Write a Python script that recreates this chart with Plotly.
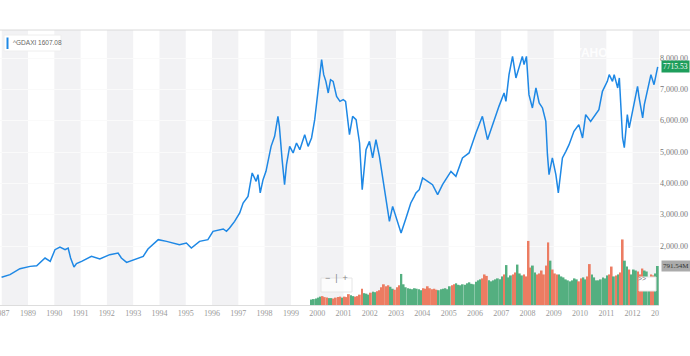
import numpy as np
import pandas as pd
import plotly.graph_objects as go

# ---- price series (^GDAXI close) ----
price_dates = [
    "1987-12-30", "1988-04-25", "1988-09-10", "1989-01-30", "1989-05-01", "1989-08-25", "1989-11-05",
    "1990-01-10", "1990-03-20", "1990-05-30", "1990-07-12", "1990-08-15", "1990-10-01", "1990-11-05",
    "1991-01-15", "1991-06-01", "1991-09-25", "1992-02-10", "1992-06-05", "1992-07-20", "1992-10-01",
    "1993-01-01", "1993-05-20", "1993-07-25", "1993-12-15", "1994-04-10", "1994-07-10", "1994-10-05",
    "1995-01-10", "1995-03-20", "1995-07-12", "1995-11-05", "1996-01-15", "1996-04-15", "1996-06-05",
    "1996-07-20", "1996-09-01", "1996-11-10", "1997-01-20", "1997-03-08", "1997-05-15", "1997-07-12",
    "1997-09-05", "1997-10-01", "1997-11-01", "1997-12-10", "1998-01-20", "1998-04-01", "1998-05-20",
    "1998-07-05", "1998-07-25", "1998-09-01", "1998-10-05",
    "1998-11-01", "1998-12-15", "1999-02-01", "1999-03-20", "1999-05-05", "1999-07-12", "1999-08-28",
    "1999-10-15", "1999-11-28", "2000-01-01", "2000-02-08", "2000-03-03", "2000-04-01", "2000-05-01",
    "2000-06-03", "2000-07-05", "2000-08-10", "2000-09-27", "2000-11-13", "2000-12-28",
    "2001-01-30", "2001-03-25", "2001-05-08", "2001-06-25",
    "2001-08-12", "2001-09-18", "2001-11-10", "2001-12-28", "2002-02-10", "2002-03-28", "2002-05-15",
    "2002-07-22", "2002-10-01", "2002-11-15", "2003-01-01", "2003-03-12", "2003-05-20", "2003-07-25",
    "2003-09-12", "2003-10-05", "2003-11-20", "2004-01-05", "2004-03-15", "2004-05-22", "2004-08-01",
    "2004-10-08", "2005-02-02", "2005-04-12", "2005-07-12", "2005-10-12", "2006-01-15", "2006-04-15",
    "2006-06-25", "2006-09-25", "2006-12-01", "2007-02-10", "2007-03-08", "2007-04-20", "2007-06-08",
    "2007-07-25", "2007-09-05", "2007-10-22", "2007-11-15", "2007-12-18", "2008-01-22", "2008-03-10",
    "2008-04-28", "2008-06-12", "2008-07-28", "2008-09-12", "2008-10-05", "2008-10-27", "2008-12-12",
    "2009-01-30", "2009-03-05", "2009-05-01", "2009-06-18", "2009-08-01", "2009-10-08", "2009-12-15",
    "2010-02-05", "2010-03-20", "2010-05-28", "2010-08-08", "2010-09-20", "2010-11-08", "2011-01-15",
    "2011-02-10", "2011-03-28", "2011-04-20", "2011-06-08", "2011-07-01", "2011-07-25", "2011-08-15",
    "2011-09-08", "2011-10-20", "2011-11-15", "2012-01-01", "2012-03-10", "2012-04-01", "2012-05-20",
    "2012-06-12", "2012-07-25", "2012-09-12", "2012-10-25", "2012-12-15",
]
price_values = [
    1000, 1085, 1277, 1350, 1372, 1617, 1510,
    1883, 1968, 1883, 1936, 1617, 1330, 1436,
    1510, 1670, 1585, 1723, 1777, 1617, 1478,
    1563, 1670, 1904, 2202, 2148, 2095, 2042,
    2095, 1936, 2148, 2202, 2467, 2521, 2543,
    2467, 2574, 2787, 3054, 3373, 3584, 4331,
    4063, 4277, 3693, 4117, 4382, 5180, 5500,
    6138, 5819, 4756, 3958,
    4596, 5180, 4970, 5288, 5075, 5554, 5180,
    5448, 6032, 6777, 7628, 7947, 7469, 7255,
    6884, 7309, 7255, 6777, 6618, 6671,
    6618, 5554, 6138, 6032,
    5288, 3798, 5075, 5340, 4810, 5394, 4861,
    3798, 2787, 3265, 2946, 2416, 2895, 3373,
    3584, 3693, 3798, 4171, 4063, 3958, 3639,
    3958, 4382, 4223, 4810, 4970, 5608, 6138,
    5394, 6032, 6457, 6885, 6618, 7469, 8053,
    7363, 7682, 8053, 7788, 8053, 6830, 6406,
    7044, 6565, 6406, 5978, 4915, 4277, 4810,
    4277, 3693, 4810, 5021, 5235, 5659, 5873,
    5448, 6192, 5978, 6192, 6352, 6936, 7255,
    7469, 7255, 7469, 7044, 7363, 6297, 5448,
    5140, 6192, 5767, 6297, 7096, 6724, 6086,
    6511, 6936, 7469, 7149, 7715.53,
]

# ---- monthly volume (millions), Oct 1999 .. Dec 2012 ----
volume_start = "1999-10-01"
volume_millions = [
    110, 120, 130,
    150, 170, 180, 160, 150, 140, 140, 130, 150, 160, 170, 150,
    170, 160, 220, 200, 180, 170, 180, 210, 330, 240, 230, 210,
    250, 270, 260, 280, 300, 360, 420, 380, 400, 370, 330, 310,
    360, 400, 630, 420, 360, 340, 330, 320, 340, 330, 320, 300,
    340, 330, 380, 340, 320, 330, 310, 300, 320, 330, 340, 320,
    380, 400, 420, 440, 410, 400, 420, 410, 440, 460, 430, 420,
    470, 500, 520, 540, 620, 590, 500, 480, 500, 520, 540, 520,
    580, 620, 810, 560, 600, 620, 660, 820, 640, 600, 620, 580,
    1300, 760, 800, 660, 620, 640, 700, 620, 800, 1270, 900, 720,
    640, 620, 620, 580, 560, 520, 500, 480, 500, 540, 520, 480,
    540, 560, 520, 580, 830, 620, 560, 500, 500, 520, 560, 540,
    600, 620, 780, 580, 600, 620, 660, 1330, 900, 780, 720, 620,
    720, 700, 680, 620, 740, 700, 680, 560, 620, 600, 640, 791.54,
]

year_ticks = list(range(1989, 2014))
first_tick_date = "1987-12-30"
first_tick_label = "1987"
price_ticks = [2000, 3000, 4000, 5000, 6000, 7000, 8000]
legend_text = "^GDAXI 1607.08"
last_price = 7715.53
last_volume = 791.54

# ---- derived ----
pd_dates = pd.to_datetime(price_dates)
vol_dates = pd.date_range(volume_start, periods=len(volume_millions), freq="MS")
t_price = pd_dates.values.astype("datetime64[D]").astype(float)
t_start = vol_dates.values.astype("datetime64[D]").astype(float)
t_end = (vol_dates + pd.offsets.MonthEnd(0)).values.astype("datetime64[D]").astype(float)
p0 = np.interp(t_start, t_price, price_values)
p1 = np.interp(t_end, t_price, price_values)
UP, DOWN = "#54AF80", "#EC7C62"
bar_colors = [UP if b >= a else DOWN for a, b in zip(p0, p1)]
vol_mid = vol_dates + pd.Timedelta(days=15)

fig = go.Figure()

fig.add_trace(go.Bar(
    x=vol_mid, y=volume_millions, yaxis="y2",
    marker=dict(color=bar_colors, line=dict(width=0)),
    width=[26 * 24 * 3600 * 1000] * len(volume_millions),
    showlegend=False, hoverinfo="skip",
))
fig.add_trace(go.Scatter(
    x=pd_dates, y=price_values, mode="lines",
    line=dict(color="#1E88E5", width=1.5),
    showlegend=False, hoverinfo="skip",
))

shapes = []
for y in range(1988, 2013, 2):
    shapes.append(dict(type="rect", xref="x", yref="paper",
                       x0=f"{y}-01-01", x1=f"{y+1}-01-01", y0=0, y1=1,
                       fillcolor="#F2F2F4", line=dict(width=0), layer="below"))

PW, PH, T = 659.0, 275.0, 30.0
def px(xp):
    return xp / PW
def py(yp):
    return 1 - (yp - T) / PH

# top border
shapes.append(dict(type="line", xref="paper", yref="paper", x0=0, x1=1.05, y0=1, y1=1,
                   line=dict(color="#DADADA", width=1), layer="above"))
# clip last x label at plot edge
shapes.append(dict(type="rect", xref="paper", yref="paper", x0=1.001, x1=1.06,
                   y0=py(308), y1=py(325), fillcolor="white", line=dict(width=0), layer="above"))
# legend box
shapes.append(dict(type="rect", xref="paper", yref="paper", x0=px(4), x1=px(61),
                   y0=py(51), y1=py(35), fillcolor="white",
                   line=dict(color="#EEEEEE", width=1), layer="above"))
shapes.append(dict(type="rect", xref="paper", yref="paper", x0=px(6.5), x1=px(8.5),
                   y0=py(49), y1=py(37.5), fillcolor="#1E88E5",
                   line=dict(width=0), layer="above"))
# zoom controls
shapes.append(dict(type="rect", xref="paper", yref="paper", x0=px(321), x1=px(352),
                   y0=py(292), y1=py(278), fillcolor="rgba(255,255,255,0.75)",
                   line=dict(color="#E6E6E6", width=1), layer="above"))
shapes.append(dict(type="rect", xref="paper", yref="paper", x0=px(639), x1=px(656),
                   y0=py(291), y1=py(277), fillcolor="white",
                   line=dict(color="#E6E6E6", width=1), layer="above"))

annotations = [
    dict(xref="paper", yref="paper", x=px(11), y=py(43), xanchor="left", yanchor="middle",
         text=legend_text, showarrow=False, font=dict(size=6.5, color="#666", family="Liberation Sans")),
    dict(xref="paper", yref="y", x=1, y=last_price, xanchor="left", yanchor="middle", xshift=2,
         text=f"{last_price:.2f}", showarrow=False, bgcolor="#1E9E5C", borderpad=1,
         font=dict(size=7.5, color="white", family="Liberation Serif")),
    dict(xref="paper", yref="y2", x=1, y=last_volume, xanchor="left", yanchor="middle", xshift=2,
         text=f"{last_volume:.2f}M", showarrow=False, bgcolor="#ABABAB", borderpad=1,
         font=dict(size=7, color="#333", family="Liberation Serif")),
    dict(xref="paper", yref="paper", x=px(336.5), y=py(285), text="\u2212  |  +", showarrow=False,
         font=dict(size=9, color="#888", family="Liberation Sans")),
    dict(xref="paper", yref="paper", x=px(647.5), y=py(284), text=">>", showarrow=False,
         font=dict(size=7, color="#777", family="Liberation Sans")),
    dict(xref="paper", yref="paper", x=px(623), y=py(44), text="<b>YAHOO!</b>", showarrow=False,
         font=dict(size=12, color="rgba(255,255,255,0.9)", family="Liberation Sans")),
]

fig.update_layout(
    width=690, height=356,
    margin=dict(l=0, r=31, t=30, b=51, autoexpand=False),
    paper_bgcolor="white", plot_bgcolor="white",
    bargap=0.1,
    shapes=shapes, annotations=annotations,
    xaxis=dict(
        type="date", range=["1987-12-08", "2013-01-02"],
        tickvals=[first_tick_date] + [f"{y}-01-01" for y in year_ticks],
        ticktext=[first_tick_label] + [str(y) for y in year_ticks],
        tickfont=dict(size=8, color="#999", family="Liberation Serif"),
        ticklabeloverflow="allow", automargin=False,
        showgrid=False, showline=True, linecolor="#DDDDDD", linewidth=1,
        ticks="", ticklen=0, zeroline=False, fixedrange=True,
    ),
    yaxis=dict(
        side="right", range=[117, 8894], automargin=False,
        tickvals=price_ticks, tickformat=",.2f",
        tickfont=dict(size=8, color="#777", family="Liberation Serif"),
        showgrid=True, gridcolor="#FAFAFA", gridwidth=1,
        zeroline=False, ticks="", ticklen=0, showline=False,
    ),
    yaxis2=dict(overlaying="y", range=[0, 5580], visible=False),
)

fig.write_html("out.html", config={"displayModeBar": False},
               post_script="document.body.style.margin='0px';")
